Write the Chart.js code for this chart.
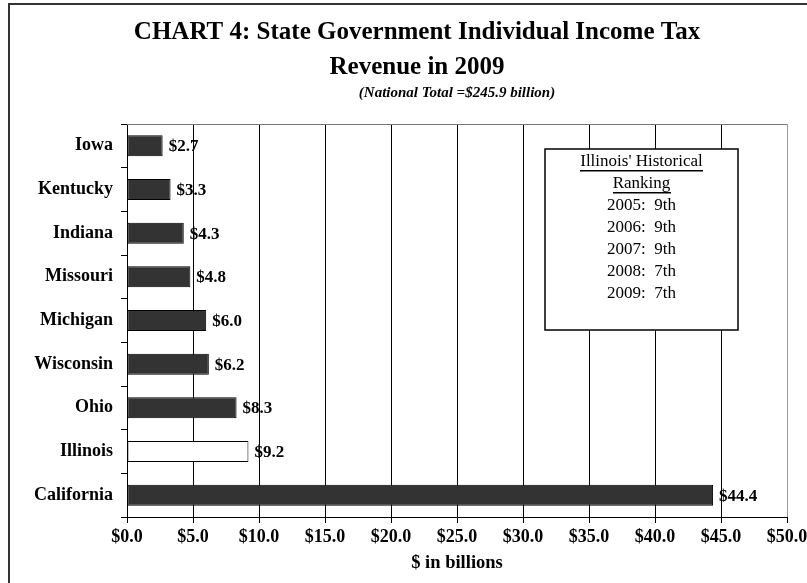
<!DOCTYPE html>
<html>
<head>
<meta charset="utf-8">
<title>State Government Individual Income Tax Revenue in 2009</title>
<script src="https://cdn.jsdelivr.net/npm/chart.js@4.4.1/dist/chart.umd.min.js"></script>
<style>
  html, body { margin: 0; padding: 0; background: #fff; }
  canvas { display: block; }
</style>
</head>
<body>
<canvas id="tax-chart" width="807" height="583"></canvas>
<script>
// States and revenue in billions of dollars (2009)
var states = ['Iowa', 'Kentucky', 'Indiana', 'Missouri', 'Michigan', 'Wisconsin', 'Ohio', 'Illinois', 'California'];
var revenue = [2.7, 3.3, 4.3, 4.8, 6.0, 6.2, 8.3, 9.2, 44.4];
var highlight = 'Illinois';

// Illinois' ranking by year, shown in the box
var rankYears = ['2005', '2006', '2007', '2008', '2009'];
var rankPlaces = ['9th', '9th', '9th', '7th', '7th'];

var titleLines = ['CHART 4: State Government Individual Income Tax', 'Revenue in 2009'];
var subtitleText = '(National Total =$245.9 billion)';
var serif = "'Liberation Serif', 'Times New Roman', serif";

var barColors = states.map(function (s) { return s === highlight ? '#ffffff' : '#333333'; });

// value labels at the end of each bar
var valueLabels = {
    id: 'valueLabels',
    afterDatasetsDraw: function (chart) {
        var ctx = chart.ctx;
        var meta = chart.getDatasetMeta(0);
        ctx.save();
        ctx.font = 'bold 17px ' + serif;
        ctx.fillStyle = '#000';
        ctx.textAlign = 'left';
        ctx.textBaseline = 'middle';
        meta.data.forEach(function (bar, i) {
            ctx.fillText('$' + revenue[i].toFixed(1), bar.x + 6, bar.y + 1);
        });
        ctx.restore();
    }
};

// page frame, titles, plot top border and the ranking box
var extras = {
    id: 'extras',
    beforeDraw: function (chart) {
        var ctx = chart.ctx;
        ctx.save();
        ctx.strokeStyle = '#333';
        ctx.lineWidth = 2;
        ctx.beginPath();
        ctx.moveTo(9, chart.height + 5);
        ctx.lineTo(9, 4);
        ctx.lineTo(chart.width + 5, 4);
        ctx.stroke();
        ctx.restore();
    },
    afterDraw: function (chart) {
        var ctx = chart.ctx;
        var area = chart.chartArea;
        ctx.save();

        // main title is centred on the whole frame, subtitle on the plot
        ctx.fillStyle = '#000';
        ctx.textAlign = 'center';
        ctx.textBaseline = 'middle';
        ctx.font = 'bold 25px ' + serif;
        titleLines.forEach(function (t, i) {
            ctx.fillText(t, 417, 32.5 + i * 35);
        });
        ctx.font = 'italic bold 15px ' + serif;
        ctx.fillText(subtitleText, (area.left + area.right) / 2, 93);

        ctx.strokeStyle = '#777';
        ctx.lineWidth = 1;
        ctx.beginPath();
        ctx.moveTo(area.left, Math.round(area.top) + 0.5);
        ctx.lineTo(area.right, Math.round(area.top) + 0.5);
        ctx.stroke();

        var bx = 545, by = 149, bw = 193, bh = 181;
        ctx.fillStyle = '#fff';
        ctx.fillRect(bx, by, bw, bh);
        ctx.strokeStyle = '#000';
        ctx.lineWidth = 1.5;
        ctx.strokeRect(bx, by, bw, bh);

        var cx = bx + bw / 2;
        ctx.fillStyle = '#000';
        ctx.font = '17px ' + serif;
        var heads = ["Illinois' Historical", 'Ranking'];
        var y = 162;
        heads.forEach(function (t) {
            ctx.fillText(t, cx, y);
            var w = ctx.measureText(t).width;
            ctx.fillRect(Math.round(cx - w / 2), y + 8, Math.round(w), 1.5);
            y += 22;
        });
        rankYears.forEach(function (yr, i) {
            ctx.fillText(yr + ':  ' + rankPlaces[i], cx, y);
            y += 22;
        });
        ctx.restore();
    }
};

var config = {
    type: 'bar',
    data: {
        labels: states,
        datasets: [{
            data: revenue,
            backgroundColor: barColors,
            borderColor: '#000',
            borderWidth: 1,
            borderSkipped: false,
            barPercentage: 0.48,
            categoryPercentage: 1
        }]
    },
    options: {
        indexAxis: 'y',
        responsive: false,
        animation: false,
        layout: { padding: { left: 0, right: 20, top: 124, bottom: 0 } },
        plugins: {
            legend: { display: false },
            tooltip: { enabled: false },
            title: { display: false }
        },
        scales: {
            x: {
                min: 0,
                max: 50,
                ticks: {
                    stepSize: 5,
                    color: '#000',
                    padding: 4,
                    font: { family: serif, size: 18, weight: 'bold' },
                    callback: function (v) { return '$' + Number(v).toFixed(1); }
                },
                grid: {
                    color: function (c) { return c.tick && c.tick.value === 50 ? '#999' : '#000'; },
                    tickColor: '#000',
                    tickLength: 6,
                    lineWidth: 1
                },
                border: { color: '#000', width: 1 },
                title: {
                    display: true,
                    text: '$ in billions',
                    color: '#000',
                    font: { family: serif, size: 18.5, weight: 'bold', lineHeight: 1.2 },
                    padding: { top: 0, bottom: 9 }
                },
                afterFit: function (scale) {
                    scale.height = 66;
                    scale.paddingLeft = 0;
                    scale.paddingRight = 0;
                }
            },
            y: {
                ticks: {
                    color: '#000',
                    padding: 8,
                    font: { family: serif, size: 18, weight: 'bold' }
                },
                grid: {
                    offset: true,
                    drawOnChartArea: false,
                    tickLength: 6,
                    color: '#000'
                },
                border: { color: '#000', width: 1 },
                afterFit: function (scale) {
                    scale.width = 127;
                    scale.paddingTop = 0;
                    scale.paddingBottom = 0;
                }
            }
        }
    },
    plugins: [valueLabels, extras]
};

var ctx = document.getElementById('tax-chart').getContext('2d');
new Chart(ctx, config);
</script>
</body>
</html>
